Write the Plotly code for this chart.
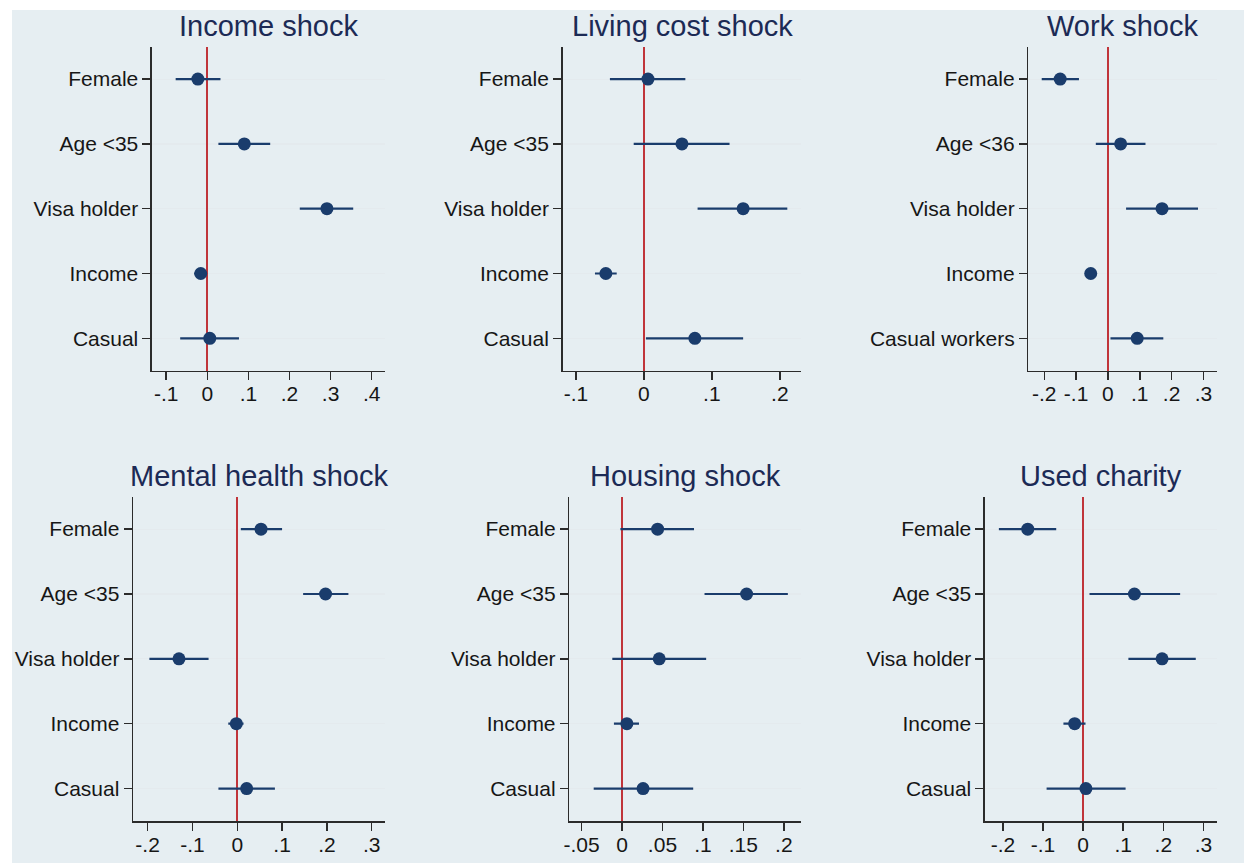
import plotly.graph_objects as go

W, H = 1244, 863

# ---------------- data ----------------
categories_std = ["Female", "Age <35", "Visa holder", "Income", "Casual"]
categories_work = ["Female", "Age <36", "Visa holder", "Income", "Casual workers"]

income_est = [-0.023, 0.090, 0.291, -0.016, 0.006]
income_lo = [-0.077, 0.027, 0.225, -0.032, -0.066]
income_hi = [0.032, 0.153, 0.355, -0.004, 0.077]

living_est = [0.006, 0.056, 0.146, -0.056, 0.075]
living_lo = [-0.050, -0.015, 0.079, -0.072, 0.003]
living_hi = [0.061, 0.126, 0.211, -0.040, 0.146]

work_est = [-0.150, 0.040, 0.170, -0.054, 0.092]
work_lo = [-0.208, -0.038, 0.057, -0.060, 0.008]
work_hi = [-0.091, 0.118, 0.283, -0.048, 0.174]

mental_est = [0.053, 0.197, -0.130, -0.002, 0.021]
mental_lo = [0.008, 0.147, -0.196, -0.020, -0.042]
mental_hi = [0.100, 0.248, -0.064, 0.014, 0.084]

housing_est = [0.044, 0.154, 0.046, 0.006, 0.026]
housing_lo = [-0.002, 0.102, -0.012, -0.010, -0.035]
housing_hi = [0.089, 0.205, 0.104, 0.021, 0.088]

charity_est = [-0.138, 0.128, 0.197, -0.021, 0.007]
charity_lo = [-0.210, 0.016, 0.113, -0.049, -0.091]
charity_hi = [-0.067, 0.242, 0.281, 0.006, 0.106]

ticks_income = [-0.1, 0, 0.1, 0.2, 0.3, 0.4]
labels_income = ["-.1", "0", ".1", ".2", ".3", ".4"]
ticks_living = [-0.1, 0, 0.1, 0.2]
labels_living = ["-.1", "0", ".1", ".2"]
ticks_tenths = [-0.2, -0.1, 0, 0.1, 0.2, 0.3]
labels_tenths = ["-.2", "-.1", "0", ".1", ".2", ".3"]
ticks_housing = [-0.05, 0, 0.05, 0.1, 0.15, 0.2]
labels_housing = ["-.05", "0", ".05", ".1", ".15", ".2"]

titles = ["Income shock", "Living cost shock", "Work shock",
          "Mental health shock", "Housing shock", "Used charity"]

# ---------------- layout geometry (pixels) ----------------
panels = [
    dict(title=titles[0], cats=categories_std, est=income_est, lo=income_lo, hi=income_hi,
         tv=ticks_income, tt=labels_income, xr=[-0.1346, 0.4327], px=(146.7, 381.0), py=(46.7, 370.7)),
    dict(title=titles[1], cats=categories_std, est=living_est, lo=living_lo, hi=living_hi,
         tv=ticks_living, tt=labels_living, xr=[-0.1196, 0.2318], px=(559.3, 799.3), py=(46.7, 370.7)),
    dict(title=titles[2], cats=categories_work, est=work_est, lo=work_lo, hi=work_hi,
         tv=ticks_tenths, tt=labels_tenths, xr=[-0.25, 0.344], px=(1027.3, 1217.3), py=(46.7, 370.7)),
    dict(title=titles[3], cats=categories_std, est=mental_est, lo=mental_lo, hi=mental_hi,
         tv=ticks_tenths, tt=labels_tenths, xr=[-0.2324, 0.330], px=(127.7, 381.0), py=(496.7, 821.0)),
    dict(title=titles[4], cats=categories_std, est=housing_est, lo=housing_lo, hi=housing_hi,
         tv=ticks_housing, tt=labels_housing, xr=[-0.0652, 0.2218], px=(566.0, 799.3), py=(496.7, 821.0)),
    dict(title=titles[5], cats=categories_std, est=charity_est, lo=charity_lo, hi=charity_hi,
         tv=ticks_tenths, tt=labels_tenths, xr=[-0.2447, 0.335], px=(983.7, 1217.3), py=(496.7, 821.0)),
]

NAVY = "#1a3c6c"
RED = "#c0343a"
AXIS = "#2b2b2b"
FONT = "Liberation Sans, Arial, Helvetica, sans-serif"

fig = go.Figure()
layout = dict(
    width=W, height=H,
    margin=dict(l=0, r=0, t=0, b=0),
    paper_bgcolor="white",
    showlegend=False,
    font=dict(family=FONT, size=21, color="#161616"),
    annotations=[],
    shapes=[dict(type="rect", xref="paper", yref="paper",
                 x0=6 / W, x1=1, y0=0, y1=1 - 10 / H,
                 fillcolor="#e6eef2", line=dict(width=0), layer="below")],
)

for i, p in enumerate(panels):
    n = "" if i == 0 else str(i + 1)
    xa, ya = "x" + n, "y" + n
    est, lo, hi = p["est"], p["lo"], p["hi"]
    fig.add_trace(go.Scatter(
        x=est, y=p["cats"], xaxis=xa, yaxis=ya, mode="markers",
        marker=dict(size=13, color=NAVY),
        error_x=dict(type="data", symmetric=False,
                     array=[h - e for h, e in zip(hi, est)],
                     arrayminus=[e - l for e, l in zip(est, lo)],
                     width=0, thickness=2.2, color=NAVY),
        hoverinfo="skip",
    ))
    xd = [p["px"][0] / W, p["px"][1] / W]
    yd = [1 - p["py"][1] / H, 1 - p["py"][0] / H]
    layout["xaxis" + n] = dict(
        domain=xd, anchor=ya, range=p["xr"], tickvals=p["tv"], ticktext=p["tt"],
        showgrid=False, zeroline=True, zerolinecolor=RED, zerolinewidth=2,
        showline=True, linecolor=AXIS, linewidth=1.5,
        ticks="outside", ticklen=8, tickwidth=1.5, tickcolor=AXIS,
        ticklabelstandoff=-4,
        tickfont=dict(size=21, color="#161616"), fixedrange=True,
    )
    layout["yaxis" + n] = dict(
        domain=yd, anchor=xa, type="category", categoryorder="array",
        categoryarray=p["cats"], range=[4.5, -0.5],
        showgrid=True, gridcolor="#e4eaee", gridwidth=1.2,
        showline=True, linecolor=AXIS, linewidth=1.5,
        ticks="outside", ticklen=8, tickwidth=1.5, tickcolor=AXIS,
        tickfont=dict(size=21, color="#161616"), fixedrange=True,
    )
    layout["annotations"].append(dict(
        text=p["title"], xref="paper", yref="paper",
        x=(xd[0] + xd[1]) / 2, y=1 - (p["py"][0] - 21) / H,
        xanchor="center", yanchor="middle", showarrow=False,
        font=dict(size=29, color="#1c2a55", family=FONT),
    ))

layout["plot_bgcolor"] = "#fafcfd"
fig.update_layout(**layout)
fig.write_html(
    "out.html",
    config={"displayModeBar": False, "staticPlot": True},
    post_script="document.body.style.margin='0';document.body.style.overflow='hidden';",
)
